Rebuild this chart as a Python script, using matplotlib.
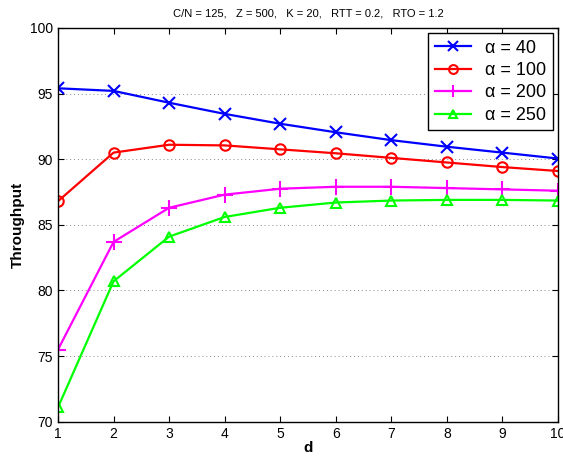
import matplotlib
matplotlib.use("Agg")
import matplotlib.pyplot as plt

plt.rcParams['font.family'] = ['Liberation Sans', 'DejaVu Sans']

d = [1, 2, 3, 4, 5, 6, 7, 8, 9, 10]
alpha_40 = [95.4, 95.2, 94.3, 93.45, 92.7, 92.05, 91.45, 90.95, 90.5, 90.05]
alpha_100 = [86.8, 90.5, 91.1, 91.05, 90.75, 90.45, 90.1, 89.75, 89.4, 89.1]
alpha_200 = [75.5, 83.7, 86.3, 87.3, 87.75, 87.9, 87.9, 87.8, 87.7, 87.6]
alpha_250 = [71.1, 80.7, 84.1, 85.6, 86.3, 86.7, 86.85, 86.9, 86.9, 86.85]
labels = ["\u03b1 = 40", "\u03b1 = 100", "\u03b1 = 200", "\u03b1 = 250"]

fig = plt.figure(figsize=(5.63, 4.57), dpi=100)
ax = fig.add_axes([0.103, 0.077, 0.888, 0.862])

ax.plot(d, alpha_40, color="#0000ff", marker="x", ms=8, mew=1.5, lw=1.6, label=labels[0])
ax.plot(d, alpha_100, color="#ff0000", marker="o", ms=7.5, mfc="none", mew=1.5, lw=1.6, label=labels[1])
ax.plot(d, alpha_200, color="#ff00ff", marker="+", ms=11, mew=1.5, lw=1.6, label=labels[2])
ax.plot(d, alpha_250, color="#00ff00", marker="^", ms=7.5, mfc="none", mew=1.5, lw=1.6, label=labels[3])

ax.set_xlim(1, 10)
ax.set_ylim(70, 100)
ax.set_xticks(d)
ax.set_yticks(range(70, 101, 5))
ax.tick_params(direction="in", labelsize=10, length=4, top=True, right=True)
ax.yaxis.grid(True, linestyle=(0, (1, 3)), color="#888888", lw=0.7)
for s in ax.spines.values():
    s.set_linewidth(1.0)

ax.set_xlabel("d", fontweight="bold", fontsize=11, labelpad=0)
ax.set_ylabel("Throughput", fontweight="bold", fontsize=11, labelpad=4)
ax.set_title("C/N = 125,   Z = 500,   K = 20,   RTT = 0.2,   RTO = 1.2", fontsize=8, pad=8)

leg = ax.legend(loc="upper right", fontsize=13, fancybox=False, framealpha=1,
                edgecolor="black", handlelength=2.0, borderpad=0.35,
                labelspacing=0.3, borderaxespad=0.3, markerscale=0.85)
leg.get_frame().set_linewidth(1.0)

fig.savefig("out.png", dpi=100, facecolor="white")
